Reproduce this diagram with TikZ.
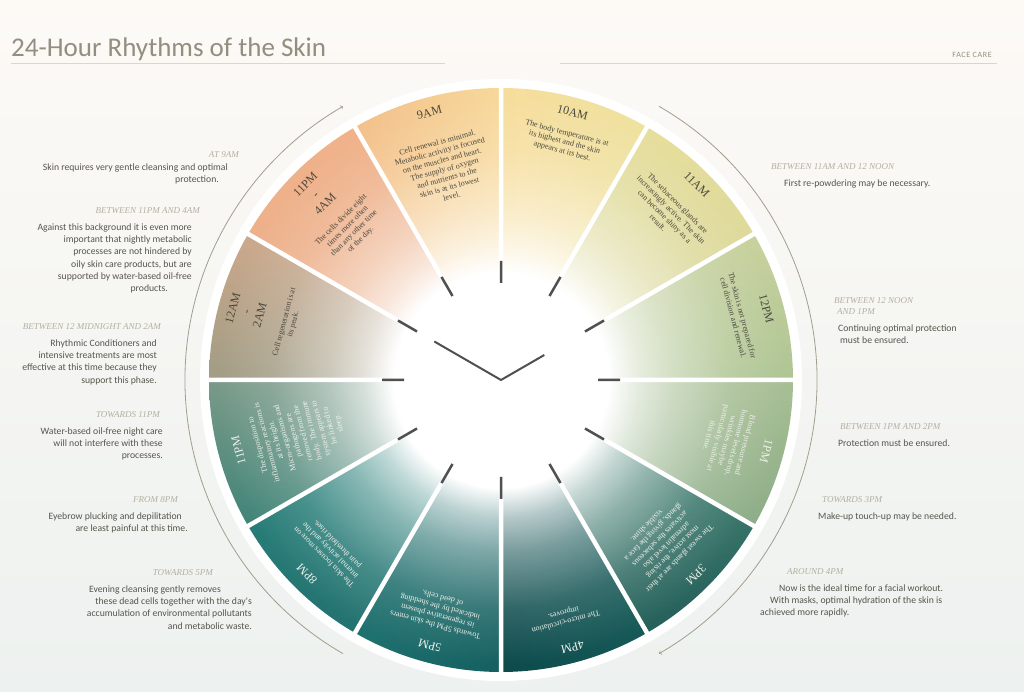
\documentclass[tikz,border=0pt]{standalone}
\usepackage{fontspec}
\setmainfont{Liberation Serif}
\newfontfamily\headfont{Carlito}
\usetikzlibrary{fadings,positioning}

\definecolor{bgtop}{HTML}{FDFAF6}
\definecolor{bgbottom}{HTML}{EDF1EF}
\definecolor{titlegrey}{HTML}{918F80}
\definecolor{rulegrey}{HTML}{DAD6CB}
\definecolor{taggrey}{HTML}{B4AFA1}
\definecolor{sidegrey}{HTML}{57554B}
\definecolor{guidegrey}{HTML}{A39D8C}
\definecolor{tickgrey}{HTML}{505050}
\definecolor{ink}{HTML}{4B483D}
\definecolor{chalk}{HTML}{EEF0E9}
% wedge colours, a = one side, b = other side
\definecolor{c9a}{HTML}{F3C08C}  \definecolor{c9b}{HTML}{F7D99A}
\definecolor{c10a}{HTML}{F7DD9C} \definecolor{c10b}{HTML}{EEE2A0}
\definecolor{c11a}{HTML}{E6DE9C} \definecolor{c11b}{HTML}{D4D59A}
\definecolor{c12a}{HTML}{C9D29E} \definecolor{c12b}{HTML}{AEC594}
\definecolor{c13a}{HTML}{A8BF94} \definecolor{c13b}{HTML}{8CAD88}
\definecolor{c15a}{HTML}{4A8A77} \definecolor{c15b}{HTML}{245F5A}
\definecolor{c16a}{HTML}{0C4A4C} \definecolor{c16b}{HTML}{175A58}
\definecolor{c17a}{HTML}{1F7270} \definecolor{c17b}{HTML}{155F60}
\definecolor{c20a}{HTML}{2E8A82} \definecolor{c20b}{HTML}{237270}
\definecolor{c23a}{HTML}{7A9A88} \definecolor{c23b}{HTML}{3F8478}
\definecolor{c0a}{HTML}{CDA98C}  \definecolor{c0b}{HTML}{A09C84}
\definecolor{c1a}{HTML}{F0B28A}  \definecolor{c1b}{HTML}{EAAE8A}

\pgfdeclareradialshading{glowshade}{\pgfpointorigin}{color(0bp)=(white); color(9.2bp)=(white); color(11.7bp)=(black!30!white); color(14.6bp)=(black!55!white); color(19.5bp)=(black!85!white); color(24.4bp)=(black); color(50bp)=(black)}
\pgfdeclarefading{glow}{\pgfuseshading{glowshade}}

\begin{document}
\begin{tikzpicture}[x=1pt, y=1pt,
  hour/.style={font=\fontsize{12}{14}\selectfont, align=center, inner sep=0pt, anchor=north},
  note/.style={font=\fontsize{8}{9.3}\selectfont, align=center, inner sep=0pt, anchor=north},
  divider/.style={white, line width=4.5pt},
  tick/.style={tickgrey, line width=2.5pt},
  guide/.style={guidegrey, line width=0.8pt, ->},
  rule/.style={rulegrey, line width=0.6pt},
  tag/.style={font=\itshape\fontsize{9}{11}\selectfont, text=taggrey, inner sep=0pt},
  side/.style={font=\headfont\fontsize{9.7}{12.2}\selectfont, text=sidegrey, inner sep=0pt}]

\shade[top color=bgtop, bottom color=bgbottom] (0,0) rectangle (1024,692);
\useasboundingbox (0,0) rectangle (1024,692);

% header
\node[anchor=base west, inner sep=0pt, font=\headfont\fontsize{27}{27}\selectfont, text=titlegrey] (title) at (11,635) {24-Hour Rhythms of the Skin};
\draw[rule] (11,629) -- (445,629);
\draw[rule] (560,629) -- (997,629);
\node[anchor=base east, inner sep=0pt, font=\headfont\fontsize{8}{8}\selectfont\addfontfeature{LetterSpace=8}, text=titlegrey] (facecare) at (992,634) {FACE CARE};

% wheel
\begin{scope}[shift={(501,312)}]
\fill[white] (0,0) circle (301);
\shade[left color=c10a, right color=c10b] (0,0) -- (90:292) arc[start angle=90, end angle=60, radius=292] -- cycle;
\shade[top color=c11a, bottom color=c11b] (0,0) -- (60:292) arc[start angle=60, end angle=30, radius=292] -- cycle;
\shade[top color=c12a, bottom color=c12b] (0,0) -- (30:292) arc[start angle=30, end angle=0, radius=292] -- cycle;
\shade[top color=c13a, bottom color=c13b] (0,0) -- (0:292) arc[start angle=0, end angle=-30, radius=292] -- cycle;
\shade[top color=c15a, bottom color=c15b] (0,0) -- (-30:292) arc[start angle=-30, end angle=-60, radius=292] -- cycle;
\shade[left color=c16a, right color=c16b] (0,0) -- (-60:292) arc[start angle=-60, end angle=-90, radius=292] -- cycle;
\shade[left color=c17a, right color=c17b] (0,0) -- (-90:292) arc[start angle=-90, end angle=-120, radius=292] -- cycle;
\shade[top color=c20a, bottom color=c20b] (0,0) -- (-120:292) arc[start angle=-120, end angle=-150, radius=292] -- cycle;
\shade[top color=c23a, bottom color=c23b] (0,0) -- (-150:292) arc[start angle=-150, end angle=-180, radius=292] -- cycle;
\shade[top color=c0a, bottom color=c0b] (0,0) -- (180:292) arc[start angle=180, end angle=150, radius=292] -- cycle;
\shade[top color=c1a, bottom color=c1b] (0,0) -- (150:292) arc[start angle=150, end angle=120, radius=292] -- cycle;
\shade[left color=c9a, right color=c9b] (0,0) -- (120:292) arc[start angle=120, end angle=90, radius=292] -- cycle;
\fill[white, path fading=glow] (0,0) circle (292);

\draw[divider] (90:118) -- (90:297) (60:118) -- (60:297) (30:118) -- (30:297)
  (0:118) -- (0:297) (-30:118) -- (-30:297) (-60:118) -- (-60:297)
  (-90:118) -- (-90:297) (-120:118) -- (-120:297) (-150:118) -- (-150:297)
  (180:118) -- (180:297) (150:118) -- (150:297) (120:118) -- (120:297);
\draw[tick] (90:97) -- (90:119) (60:97) -- (60:119) (30:97) -- (30:119)
  (0:97) -- (0:119) (-30:97) -- (-30:119) (-60:97) -- (-60:119)
  (-90:97) -- (-90:119) (-120:97) -- (-120:119) (-150:97) -- (-150:119)
  (180:97) -- (180:119) (150:97) -- (150:119) (120:97) -- (120:119);
\draw[tickgrey, line width=2pt] (150:77) -- (0,0) -- (30:50);

\draw[guide] (240:316) arc[start angle=240, end angle=120, radius=316];
\draw[guide] (60:316) arc[start angle=60, end angle=-60, radius=316];

% hours
\node[hour, text=ink, rotate=15] (h9) at (105:281) {9AM};
\node[note, text=ink, rotate=15] (n9) at (105:249) {Cell renewal is minimal.\\Metabolic activity is focused\\on the muscles and heart.\\The supply of oxygen\\and nutrients to the\\skin is at its lowest\\level.};
\node[hour, text=ink, rotate=-15] (h10) at (75:281) {10AM};
\node[note, text=ink, rotate=-15] (n10) at (75:259) {The body temperature is at\\its highest and the skin\\appears at its best.};
\node[hour, text=ink, rotate=-45] (h11) at (45:281) {11AM};
\node[note, text=ink, rotate=-45] (n11) at (45:253) {The sebaceous glands are\\increasingly active. The skin\\can become shiny as a\\result.};
\node[hour, text=ink, rotate=-75] (h12) at (15:279) {12PM};
\node[note, text=ink, rotate=-75] (n12) at (15:253) {The skin is not prepared for\\cell division and renewal.};
\node[hour, text=chalk, rotate=-105] (h13) at (-15:279) {1PM};
\node[note, text=chalk, rotate=-105] (n13) at (-15:256) {Blood pressure and\\hormone levels drop,\\wrinkles maybe\\particularly visible at\\this time.};
\node[hour, text=chalk, rotate=-135] (h15) at (-45:280) {3PM};
\node[note, text=chalk, rotate=-135] (n15) at (-45:256) {The sweat glands are at their\\most active, the rising\\adrenalin level also\\activates the sebaceous\\glands, giving the face a\\visible shine.};
\node[hour, text=chalk, rotate=-165] (h16) at (-75:281) {4PM};
\node[note, text=chalk, rotate=-165] (n16) at (-75:254) {The micro-circulation\\improves.};
\node[hour, text=chalk, rotate=165] (h17) at (-105:279) {5PM};
\node[note, text=chalk, rotate=165] (n17) at (-105:257) {Towards 5PM the skin enters\\its regenerative phasem\\indicated by the shedding\\of dead cells.};
\node[hour, text=chalk, rotate=135] (h20) at (-135:279) {8PM};
\node[note, text=chalk, rotate=135] (n20) at (-135:254) {The skin focuses more on\\internal activity and the\\pain threshold rises.};
\node[hour, text=chalk, rotate=105] (h23) at (-165:276) {11PM};
\node[note, text=chalk, rotate=105] (n23) at (-165:255) {The disposition to\\inflammatory reactions is\\at its height.\\Micro-organisms and\\pathogens are\\removed from the\\body. The immune\\system appears to\\be linked to\\sleep.};
\node[hour, text=ink, rotate=75] (h0) at (165:282) {12AM\\-\\2AM};
\node[note, text=ink, rotate=75] (n0) at (165:228) {Cell regeneration is at\\its peak.};
\node[hour, text=ink, rotate=45] (h1) at (135:281) {11PM\\-\\4AM};
\node[note, text=ink, rotate=45] (n1) at (135:230) {The cells divide eight\\times more often\\than any other time\\of the day.};
\end{scope}

% left notes
\node[tag, anchor=base east] (t9) at (239,534) {AT 9AM};
\node[side, align=right, below left=5.5pt and 11pt of t9.base east] (s9) {Skin requires very gentle cleansing and optimal\\protection.\hspace*{9pt}};
\node[tag, anchor=base east] (t11) at (200,478) {BETWEEN 11PM AND 4AM};
\node[side, align=right, below left=9.5pt and 8pt of t11.base east] (s11) {Against this background it is even more\\important that nightly metabolic\hspace*{6pt}\\processes are not hindered by\hspace*{12pt}\\oily skin care products, but are\hspace*{15pt}\\supported by water-based oil-free\hspace*{20pt}\\products.\hspace*{24pt}};
\node[tag, anchor=base east] (t0) at (161,362) {BETWEEN 12 MIDNIGHT AND 2AM};
\node[side, align=right, below left=9.5pt and 4pt of t0.base east] (s0) {Rhythmic Conditioners and\\intensive treatments are most\\effective at this time because they\\support this phase.};
\node[tag, anchor=base east] (t23) at (160,274) {TOWARDS 11PM};
\node[side, align=right, below left=9.5pt and -3pt of t23.base east] (s23) {Water-based oil-free night care\\will not interfere with these\\processes.};
\node[tag, anchor=base east] (t20) at (178,189) {FROM 8PM};
\node[side, align=right, below left=9.5pt and -10pt of t20.base east] (s20) {Eyebrow plucking and depilitation\hspace*{6pt}\\are least painful at this time.};
\node[tag, anchor=base east] (t17) at (213,116) {TOWARDS 5PM};
\node[side, align=right, below left=9.5pt and -39pt of t17.base east] (s17) {Evening cleansing gently removes\hspace*{31pt}\\these dead cells together with the day's\hspace*{21pt}\\accumulation of environmental pollutants\hspace*{11pt}\\and metabolic waste.};

% right notes
\node[tag, anchor=base west] (r11) at (771,522) {BETWEEN 11AM AND 12 NOON};
\node[side, align=left, below right=9.5pt and 13pt of r11.base west] (q11) {First re-powdering may be necessary.};
\node[tag, anchor=base west, align=left] (r12) at (834,377) {BETWEEN 12 NOON\\\hspace*{3pt}AND 1PM};
\node[side, align=left, below right=9.5pt and 4pt of r12.south west] (q12) {Continuing optimal protection\\\hspace*{2pt}must be ensured.};
\node[tag, anchor=base west] (r13) at (840,262) {BETWEEN 1PM AND 2PM};
\node[side, align=left, below right=9.5pt and -2pt of r13.base west] (q13) {Protection must be ensured.};
\node[tag, anchor=base west] (r15) at (822,189) {TOWARDS 3PM};
\node[side, align=left, below right=9.5pt and -4pt of r15.base west] (q15) {Make-up touch-up may be needed.};
\node[tag, anchor=base west] (r16) at (787,117) {AROUND 4PM};
\node[side, align=left, below right=9.5pt and -27pt of r16.base west] (q16) {\hspace*{19pt}Now is the ideal time for a facial workout.\\\hspace*{10pt}With masks, optimal hydration of the skin is\\achieved more rapidly.};
\end{tikzpicture}
\end{document}
